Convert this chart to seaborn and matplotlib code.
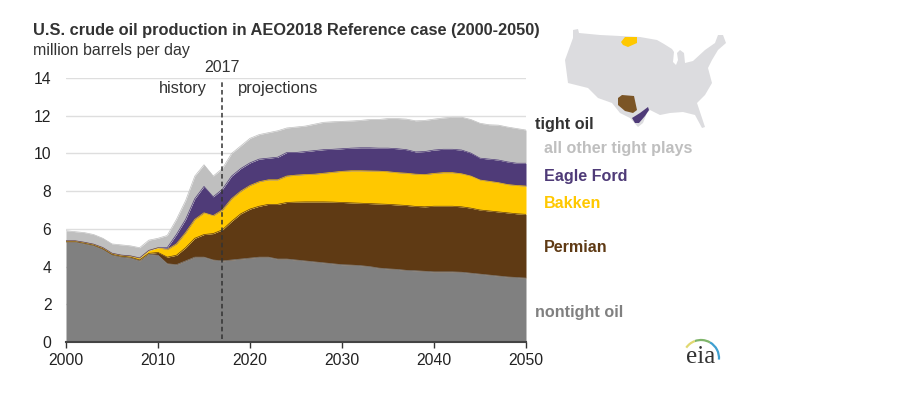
import matplotlib
matplotlib.use('Agg')
import matplotlib.pyplot as plt
from matplotlib.patches import Polygon, Arc
import pandas as pd
import seaborn as sns

years = list(range(2000, 2051))

# top edge of each stacked band, million barrels per day
nontight = [5.3, 5.3, 5.2, 5.1, 4.9, 4.6, 4.5, 4.45, 4.3, 4.65, 4.6, 4.15, 4.1, 4.3, 4.5, 4.5, 4.35,
            4.3, 4.35, 4.4, 4.45, 4.5, 4.5, 4.4, 4.4, 4.35, 4.3, 4.25, 4.2, 4.15, 4.1, 4.08, 4.05, 4.0,
            3.92, 3.88, 3.85, 3.8, 3.78, 3.75, 3.72, 3.72, 3.72, 3.7, 3.65, 3.6, 3.55, 3.5, 3.45, 3.42, 3.39]
permian = [5.33, 5.33, 5.24, 5.14, 4.95, 4.65, 4.55, 4.5, 4.35, 4.7, 4.75, 4.5, 4.6, 5.0, 5.5, 5.7, 5.75,
           5.95, 6.4, 6.8, 7.05, 7.2, 7.3, 7.3, 7.4, 7.42, 7.43, 7.43, 7.43, 7.42, 7.4, 7.38, 7.36, 7.34,
           7.32, 7.3, 7.27, 7.24, 7.19, 7.17, 7.2, 7.2, 7.2, 7.17, 7.1, 7.0, 6.95, 6.9, 6.85, 6.8, 6.77]
bakken = [5.36, 5.36, 5.28, 5.18, 5.0, 4.7, 4.6, 4.56, 4.45, 4.85, 5.0, 4.9, 5.2, 5.8, 6.5, 6.85, 6.7,
          7.0, 7.6, 8.0, 8.3, 8.5, 8.6, 8.6, 8.8, 8.85, 8.88, 8.9, 8.95, 9.0, 9.05, 9.08, 9.08, 9.07,
          9.06, 9.03, 8.98, 8.95, 8.9, 8.88, 8.94, 8.98, 8.98, 8.92, 8.8, 8.59, 8.52, 8.45, 8.35, 8.3, 8.27]
eagle_ford = [5.37, 5.37, 5.29, 5.19, 5.01, 4.71, 4.61, 4.57, 4.46, 4.86, 5.0, 5.0, 5.7, 6.5, 7.6, 8.25, 7.7,
              8.1, 8.8, 9.2, 9.5, 9.7, 9.75, 9.8, 10.05, 10.05, 10.1, 10.15, 10.2, 10.22, 10.25, 10.28, 10.3, 10.3,
              10.28, 10.28, 10.25, 10.2, 10.08, 10.1, 10.18, 10.22, 10.22, 10.18, 10.02, 9.75, 9.7, 9.65, 9.55, 9.48, 9.48]
total = [5.9, 5.85, 5.8, 5.7, 5.5, 5.2, 5.15, 5.1, 5.0, 5.4, 5.5, 5.65, 6.5, 7.5, 8.8, 9.4, 8.8,
         9.2, 10.0, 10.4, 10.8, 11.0, 11.1, 11.2, 11.35, 11.4, 11.45, 11.55, 11.65, 11.68, 11.7, 11.72, 11.75, 11.8,
         11.8, 11.85, 11.85, 11.82, 11.73, 11.75, 11.82, 11.88, 11.92, 11.92, 11.8, 11.6, 11.52, 11.5, 11.4, 11.32, 11.24]

band_names = ['nontight oil', 'Permian', 'Bakken', 'Eagle Ford', 'all other tight plays']
band_tops = [nontight, permian, bakken, eagle_ford, total]
band_colors = ['#808080', '#5f3a14', '#ffc800', '#4f3b78', '#bfbfbf']

y_ticks = [0, 2, 4, 6, 8, 10, 12, 14]
x_ticks = [2000, 2010, 2020, 2030, 2040, 2050]

df = pd.DataFrame({'year': years})
for name, top in zip(band_names, band_tops):
    df[name] = top
long_df = df.melt(id_vars='year', var_name='band', value_name='top')

sns.set_style('white')
plt.rcParams['font.family'] = ['Liberation Sans', 'DejaVu Sans']

W, H = 899, 396
fig = plt.figure(figsize=(W / 100, H / 100), dpi=100)
ax = fig.add_axes([66 / W, 1 - 342 / H, 460 / W, 264 / H])

lower = [0] * len(years)
for name, top, color in zip(band_names, band_tops, band_colors):
    ax.fill_between(years, lower, top, color=color, lw=0, zorder=2)
    lower = top
sns.lineplot(data=long_df, x='year', y='top', hue='band', palette=dict(zip(band_names, band_colors)),
             hue_order=band_names, lw=0.5, legend=False, ax=ax, zorder=3)

ax.set_xlim(2000, 2050)
ax.set_ylim(0, 14)
ax.set_xticks(x_ticks)
ax.set_yticks(y_ticks)
ax.set_xlabel('')
ax.set_ylabel('')
ax.grid(axis='y', color='#dedede', lw=1, zorder=1)
ax.set_axisbelow(True)
ax.tick_params(axis='x', length=4, width=1, color='#333333', labelsize=11.3, labelcolor='#222222', pad=4, bottom=True)
ax.tick_params(axis='y', length=0, labelsize=11.3, labelcolor='#222222', pad=10.5)
sns.despine(ax=ax, left=True)
ax.spines['bottom'].set_color('#444444')
ax.spines['bottom'].set_linewidth(1.5)

ax.axvline(2017, ymin=0.01, ymax=0.99, color='#333333', lw=1.1, ls=(0, (3, 2)), zorder=4)

# overlay in pixel coordinates for text, map and logo
ov = fig.add_axes([0, 0, 1, 1], facecolor='none')
ov.set_xlim(0, W)
ov.set_ylim(H, 0)
ov.axis('off')

ov.text(33, 31, 'U.S. crude oil production in AEO2018 Reference case (2000-2050)', fontsize=11.76,
        fontweight='bold', color='#333333', va='center')
ov.text(33, 50, 'million barrels per day', fontsize=11.5, color='#333333', va='center')
ov.text(222, 68, '2017', fontsize=11.5, color='#333333', ha='center', va='center')
ov.text(207, 88, 'history', fontsize=11.7, color='#333333', ha='right', va='center')
ov.text(238, 88, 'projections', fontsize=11.9, color='#333333', ha='left', va='center')

labels = [(535, 125, 'tight oil', '#333333'), (544, 148, 'all other tight plays', '#bfbfbf'),
          (544, 176, 'Eagle Ford', '#4f3b78'), (544, 203, 'Bakken', '#ffc800'),
          (544, 247, 'Permian', '#5f3a14'), (535, 312, 'nontight oil', '#808080')]
for x, y, s, c in labels:
    ov.text(x, y, s, fontsize=11.6, fontweight='bold', color=c, va='center')

# map outlines, in pixels
us_shape = [(573, 30), (578, 29), (579, 33), (600, 35), (640, 37), (657, 40), (664, 44), (672, 49), (674, 52),
            (673, 62), (676, 65), (678, 60), (677, 53), (680, 50), (684, 53), (685, 63), (693, 61), (705, 50),
            (715, 43), (718, 35), (723, 35), (726, 43), (718, 50), (712, 60), (708, 68), (712, 83), (705, 95),
            (697, 103), (705, 127), (702, 128), (695, 115), (683, 112), (670, 113), (660, 115), (650, 110),
            (647, 113), (643, 123), (638, 127), (630, 118), (620, 113), (612, 103), (598, 98), (588, 88),
            (568, 83), (565, 60), (573, 38)]
bakken_shape = [(621, 42), (625, 37), (637, 37), (637, 43), (628, 47), (623, 45)]
permian_shape = [(618, 98), (622, 95), (634, 96), (637, 110), (633, 113), (625, 111), (618, 105)]
eagle_shape = [(632, 118), (640, 113), (648, 107), (649, 110), (645, 116), (639, 123), (635, 123)]
for pts, c in [(us_shape, '#dcdcdf'), (bakken_shape, '#ffc800'), (permian_shape, '#7b5526'), (eagle_shape, '#4f3b78')]:
    ov.add_patch(Polygon(pts, closed=True, fc=c, ec='none'))

# eia logo
ov.text(701, 357, 'eia', fontsize=18, family='Liberation Serif', color='#333333', ha='center', va='center')
ov.add_patch(Arc((701, 358), 36, 36, theta1=300, theta2=5, color='#3f9fd0', lw=1.6))
ov.add_patch(Arc((701, 358), 36, 36, theta1=250, theta2=300, color='#7fb56a', lw=1.6))
ov.add_patch(Arc((701, 358), 36, 36, theta1=215, theta2=250, color='#e0d870', lw=1.6))

plt.savefig('out.png', dpi=100)
